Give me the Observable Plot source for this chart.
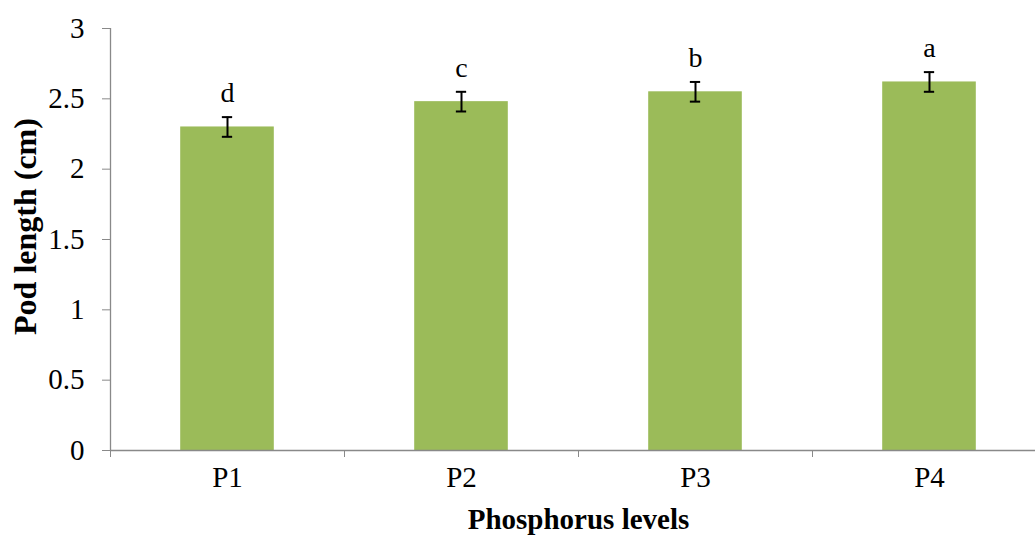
<!DOCTYPE html>
<html>
<head>
<meta charset="utf-8">
<script src="https://cdn.jsdelivr.net/npm/d3@7"></script>
<script src="https://cdn.jsdelivr.net/npm/@observablehq/plot@0.6"></script>
<style>
  html, body { margin: 0; padding: 0; background: #fff; }
  #chart svg { display: block; overflow: visible; }
</style>
</head>
<body>
<div id="chart"></div>
<script>
// Pod length by phosphorus level, with standard error and significance letters
const categories = ["P1", "P2", "P3", "P4"];
const means = [2.30, 2.48, 2.55, 2.62];
const errors = [0.07, 0.07, 0.07, 0.07];
const letters = ["d", "c", "b", "a"];
const yTicks = [0, 0.5, 1, 1.5, 2, 2.5, 3];

const rows = categories.map((c, i) => ({
  i, category: c, mean: means[i], err: errors[i], letter: letters[i]
}));

const serif = "'Liberation Serif', 'Times New Roman', serif";
const axisGray = "#898989";
const capHalf = 0.022; // half-width of error bar caps, in category units

const chart = Plot.plot({
  width: 1035,
  height: 539,
  marginLeft: 110,
  marginRight: -11,
  marginTop: 28,
  marginBottom: 89,
  style: { fontFamily: serif, fontSize: "29px", background: "white", color: "black" },
  x: { domain: [0, categories.length], axis: null },
  y: { domain: [0, 3], axis: null },
  marks: [
    // bars
    Plot.rectY(rows, {
      x1: d => d.i + 0.3, x2: d => d.i + 0.7, y: "mean", fill: "#9BBB59"
    }),
    // axis lines
    Plot.ruleY([0], { stroke: axisGray, strokeWidth: 1.3 }),
    Plot.ruleX([0], { stroke: axisGray, strokeWidth: 1.3 }),
    // y axis ticks and labels
    Plot.axisY({
      ticks: yTicks, tickSize: 8, tickPadding: 18, stroke: axisGray,
      tickFormat: d => String(d), fontSize: 29, label: null
    }),
    // category boundary ticks on x axis
    Plot.axisX({
      ticks: d3.range(categories.length + 1), tickSize: 7, stroke: axisGray,
      tickFormat: () => "", label: null
    }),
    // category labels
    Plot.axisX({
      ticks: categories.map((c, i) => i + 0.5), tickSize: 0, tickPadding: 16,
      tickFormat: t => categories[Math.floor(t)], fontSize: 29, label: null
    }),
    // error bars
    Plot.ruleX(rows, {
      x: d => d.i + 0.5, y1: d => d.mean - d.err, y2: d => d.mean + d.err,
      stroke: "black", strokeWidth: 2
    }),
    Plot.ruleY(rows, {
      x1: d => d.i + 0.5 - capHalf, x2: d => d.i + 0.5 + capHalf, y: d => d.mean + d.err,
      stroke: "black", strokeWidth: 2
    }),
    Plot.ruleY(rows, {
      x1: d => d.i + 0.5 - capHalf, x2: d => d.i + 0.5 + capHalf, y: d => d.mean - d.err,
      stroke: "black", strokeWidth: 2
    }),
    // significance letters
    Plot.text(rows, {
      x: d => d.i + 0.5, y: d => d.mean + d.err, text: "letter",
      lineAnchor: "bottom", dy: -15, fontSize: 28, fill: "black"
    }),
    // axis titles
    Plot.text(["Pod length (cm)"], {
      frameAnchor: "left", textAnchor: "middle", rotate: -90, dx: -85, dy: -13,
      fontSize: 32, fontWeight: "bold", fill: "black"
    }),
    Plot.text(["Phosphorus levels"], {
      frameAnchor: "bottom", dy: 78,
      fontSize: 29, fontWeight: "bold", fill: "black"
    })
  ]
});

document.getElementById("chart").appendChild(chart);
</script>
</body>
</html>
